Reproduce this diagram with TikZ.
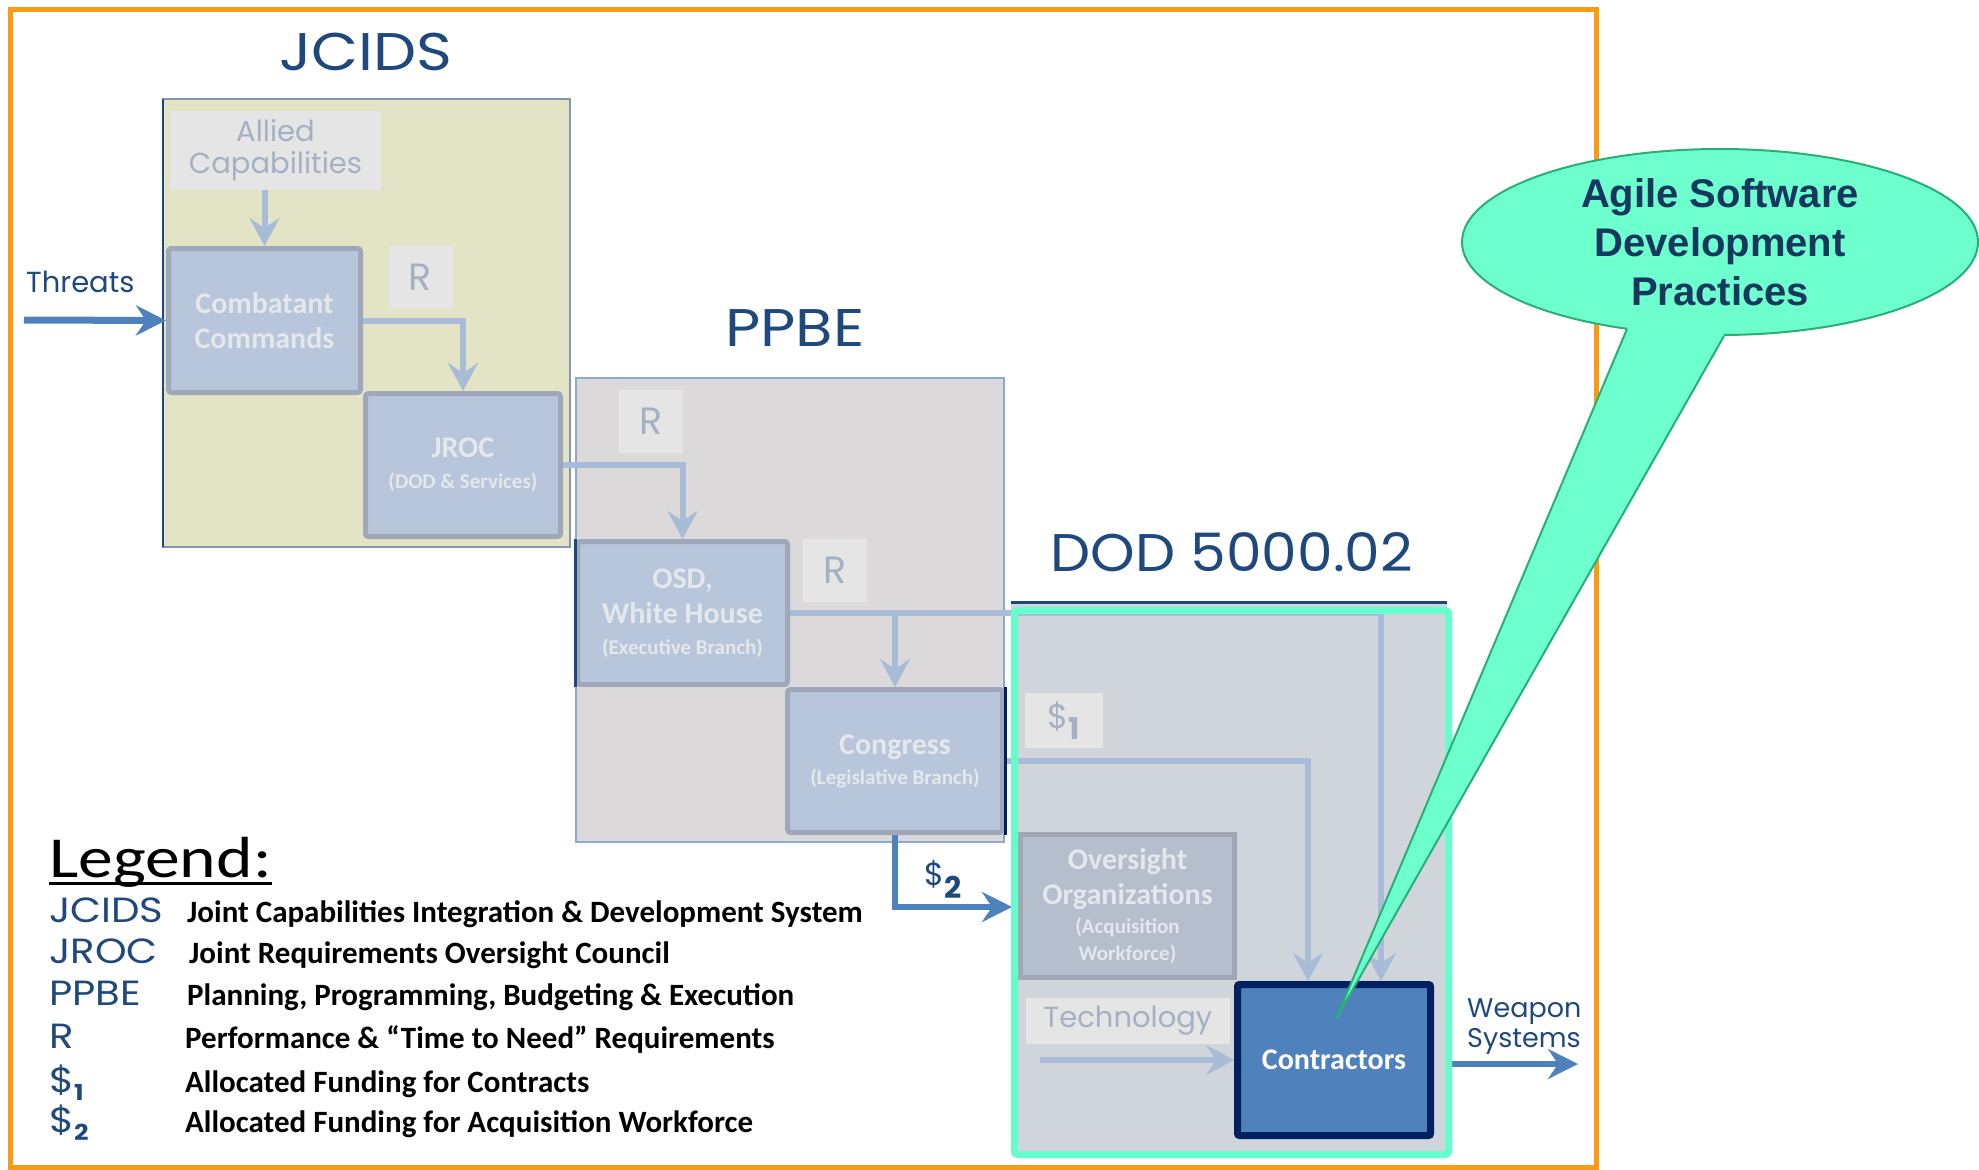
\documentclass[tikz,border=0pt]{standalone}
\usepackage{fontspec}
\setmainfont{Carlito}
\newfontfamily\geo{Poppins}
\newfontfamily\geow{Poppins}[FakeStretch=1.15]
\newfontfamily\geov{Poppins}[FakeStretch=1.07]
\newfontfamily\arialf{Liberation Sans}
\usetikzlibrary{arrows.meta,shapes.geometric}
\pgfdeclarelayer{back}
\pgfdeclarelayer{arr}
\pgfsetlayers{back,arr,main}
\definecolor{orng}{RGB}{250,155,20}
\definecolor{ttl}{RGB}{31,73,125}
\definecolor{jcfill}{RGB}{227,228,198}
\definecolor{jcb}{RGB}{132,151,176}
\definecolor{ppfill}{RGB}{220,217,218}
\definecolor{ppb}{RGB}{141,168,210}
\definecolor{dodfill}{RGB}{208,213,220}
\definecolor{tealc}{RGB}{102,255,204}
\definecolor{inf}{RGB}{183,198,218}
\definecolor{inb}{RGB}{158,168,186}
\definecolor{intx}{RGB}{228,231,236}
\definecolor{ovf}{RGB}{180,190,204}
\definecolor{ovb}{RGB}{160,166,178}
\definecolor{lbf}{RGB}{229,229,229}
\definecolor{lbt}{RGB}{165,177,195}
\definecolor{larr}{RGB}{168,188,215}
\definecolor{darr}{RGB}{79,129,189}
\definecolor{navy}{RGB}{0,32,96}
\definecolor{callf}{RGB}{110,255,206}
\definecolor{callb}{RGB}{40,175,120}
\definecolor{callt}{RGB}{23,55,94}
\newcommand\smtx[1]{{\fontsize{21}{24}\selectfont #1}}
\begin{document}
\begin{tikzpicture}[x=1pt,y=-1pt,
  inbox/.style={draw=inb, line width=5, fill=inf, rounded corners=3, text=intx, align=center, inner sep=0, font=\fontsize{30}{35}\selectfont\bfseries},
  lbox/.style={fill=lbf, inner sep=0, text=lbt, align=center, font=\geo\fontsize{29}{32}\selectfont},
  rbox/.style={fill=lbf, inner sep=0, text=lbt, minimum width=64, minimum height=63, font=\geo\fontsize{38}{40}\selectfont},
  ttlsty/.style={text=ttl, inner sep=0, anchor=base, font=\geow\fontsize{53}{60}\selectfont},
  plainlbl/.style={text=ttl, inner sep=0, anchor=base west, font=\geo\fontsize{29}{32}\selectfont},
  larrow/.style={draw=larr, line width=6, -{Stealth[length=28pt,width=30pt,inset=10pt]}},
  darrow/.style={draw=darr, line width=6, -{Stealth[length=30pt,width=30pt,inset=10pt]}},
  legab/.style={text=ttl, inner sep=0, anchor=base west, font=\geow\fontsize{35}{37}\selectfont},
  legtx/.style={text=black, inner sep=0, anchor=base west, font=\fontsize{31}{33}\selectfont\bfseries}
]
\useasboundingbox (0,0) rectangle (1979,1170);
\draw[orng, line width=5] (10,9) rectangle (1596,1167);

\begin{pgfonlayer}{back}
\filldraw[fill=jcfill, draw=jcb, line width=2] (163,99) rectangle (570,547);
\draw[ttl, line width=2.5] (163,99) -- (163,547);
\filldraw[fill=ppfill, draw=ppb, line width=2] (576,378) rectangle (1004,842);
\fill[dodfill] (1011,602) rectangle (1447,1155);
\draw[ttl, line width=3] (1011,602) -- (1447,602);
\end{pgfonlayer}

% titles
\node[ttlsty] (tj) at (366,70) {JCIDS};
\node[ttlsty] (tp) at (795,346) {PPBE};
\node[ttlsty, font=\geov\fontsize{53}{60}\selectfont] (td) at (1232,571) {DOD 5000.02};

\node[plainlbl] (thrt) at (26,292) {Threats};
\coordinate (thr) at (24,320);

% JCIDS
\node[lbox, minimum width=211, minimum height=79] (al) at (275.5,150.5) {Allied\\Capabilities};
\node[inbox, minimum width=192, minimum height=144] (cc) at (264.5,320.5) {Combatant\\Commands};
\node[rbox] (r1) at (420.5,277.5) {R};
\node[inbox, minimum width=195, minimum height=143] (jroc) at (463,465) {JROC\\[-4pt]\smtx{(DOD \& Services)}};

% PPBE
\node[rbox] (r2) at (651,421) {R};
\node[inbox, minimum width=210, minimum height=143] (osd) at (682.5,613) {OSD,\\White House\\[-4pt]\smtx{(Executive Branch)}};
\node[rbox] (r3) at (835,570.5) {R};
\node[inbox, minimum width=215, minimum height=143] (con) at (895,761) {Congress\\[-5pt]\smtx{(Legislative Branch)}};
\draw[ttl, line width=3] (osd.north west) -- (osd.south west);
\draw[navy, line width=3] (con.north east) -- (con.south east);

\node[text=ttl, inner sep=0, anchor=base west, font=\geo\fontsize{32}{34}\selectfont] (d2) at (924,885) {\$\raisebox{-13pt}{\bfseries\fontsize{30}{30}\selectfont 2}};
\coordinate (s2end) at (1012,907);

% DOD
\node[lbox, minimum width=78, minimum height=55, font=\geo\fontsize{34}{36}\selectfont] (d1) at (1064,720.5) {\$\raisebox{-11pt}{\bfseries\fontsize{30}{30}\selectfont 1}};
\node[inbox, fill=ovf, draw=ovb, rounded corners=0, minimum width=214, minimum height=143] (ov) at (1127.5,906) {Oversight\\Organizations\\[-6pt]\smtx{(Acquisition}\\[-8pt]\smtx{Workforce)}};
\node[lbox, minimum width=204, minimum height=46] (tech) at (1128,1021) {Technology};
\coordinate (techs) at (1040,1060);
\node[draw=navy, line width=7, fill=darr, text=white, minimum width=193, minimum height=151, inner sep=0, rounded corners=2, font=\fontsize{30}{32}\selectfont\bfseries] (ctr) at (1334,1060) {Contractors};
\coordinate (c1) at ([xshift=-26pt]ctr.north);
\coordinate (c2) at ([xshift=47pt]ctr.north);
\node[draw=tealc, line width=7, rounded corners=3, minimum width=434, minimum height=544, inner sep=0] (teal) at (1231.5,882.5) {};

\node[plainlbl, font=\geo\fontsize{27}{30}\selectfont] (wp1) at (1467,1017) {Weapon};
\node[plainlbl, font=\geo\fontsize{27}{30}\selectfont] (wp2) at (1467,1047) {Systems};
\coordinate (wend) at (1578,1064);

% connectors
\begin{pgfonlayer}{arr}
\draw[darrow, line width=7] (thr) -- (cc.west);
\draw[larrow] (al.south -| cc.north) -- (cc.north);
\draw[larrow] (cc.east) -| (jroc.north);
\draw[larrow] (jroc.east) -| (osd.north);
\draw[larrow] (osd.east) -| (con.north);
\draw[larrow] (osd.east) -| (c2);
\draw[larrow] (con.east) -| (c1);
\draw[larrow] (techs) -- (ctr.west);
\draw[darrow] (con.south) |- (s2end);
\draw[darrow] (teal.east |- wend) -- (wend);
\end{pgfonlayer}

% legend
\node[inner sep=0, anchor=base west, font=\fontsize{58}{60}\selectfont] (leg) at (49,877) {\scalebox{1.2}[1]{Legend:}};
\draw[line width=3] ([yshift=-6pt]leg.base west) -- ([yshift=-6pt]leg.base east);
\node[legab] (la1) at (49,922) {JCIDS};
\node[legtx] (ld1) at (187,922) {Joint Capabilities Integration \& Development System};
\node[legab] (la2) at (49,963) {JROC};
\node[legtx] (ld2) at (189,963) {Joint Requirements Oversight Council};
\node[legab] (la3) at (49,1005) {PPBE};
\node[legtx] (ld3) at (187,1005) {Planning, Programming, Budgeting \& Execution};
\node[legab] (la4) at (49,1048) {R};
\node[legtx] (ld4) at (185,1048) {Performance \& “Time to Need” Requirements};
\node[legab] (la5) at (49,1092) {\$\raisebox{-8pt}{\bfseries\fontsize{22}{22}\selectfont 1}};
\node[legtx] (ld5) at (185,1092) {Allocated Funding for Contracts};
\node[legab] (la6) at (49,1132) {\$\raisebox{-8pt}{\bfseries\fontsize{22}{22}\selectfont 2}};
\node[legtx] (ld6) at (185,1132) {Allocated Funding for Acquisition Workforce};

% callout
\node[ellipse, draw=callb, line width=2, fill=callf, minimum width=516, minimum height=186, inner sep=0, text=callt, align=center, font=\arialf\bfseries\fontsize{40}{49}\selectfont] (agile) at (1720,242) {Agile Software\\Development\\Practices};
\coordinate (tip) at (1336,1019);
\fill[callf] (tip) -- (1627,329) -- (1629,318) -- (1722,326) -- (1724,336) -- cycle;
\draw[callb, line width=2] (1627,329) -- (tip) -- (1724,336);
\end{tikzpicture}
\end{document}
